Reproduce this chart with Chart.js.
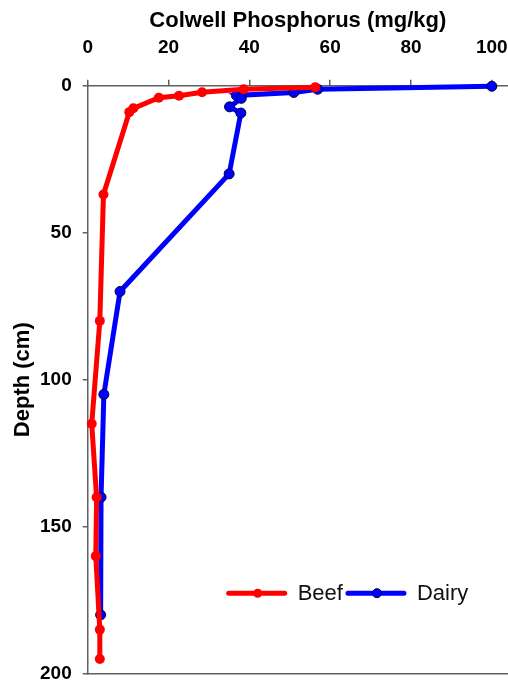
<!DOCTYPE html>
<html lang="en">
<head>
    <meta charset="UTF-8">
    <title>Colwell Phosphorus by Depth</title>
    <script src="https://cdn.jsdelivr.net/npm/chart.js"></script>
    <style>
        html, body { margin: 0; padding: 0; background: #fff; }
        .chart-container { width: 508px; height: 683px; position: relative; }
    </style>
</head>
<body>
    <div class="chart-container"><canvas id="depthChart"></canvas></div>

    <script>
        // data: depth (cm) vs Colwell P (mg/kg)
        const beefDepth = [0.5, 1.2, 2.2, 3.4, 4.1, 7.7, 9.0, 37, 80, 115, 140, 160, 185, 195];
        const beefP = [56.3, 38.6, 28.3, 22.6, 17.6, 11.3, 10.3, 3.9, 3.0, 1.0, 2.2, 2.0, 3.0, 3.0];
        const dairyDepth = [0.2, 1.2, 2.3, 3.3, 4.3, 7.2, 9.3, 30, 70, 105, 140, 180];
        const dairyP = [100, 56.9, 51.0, 36.8, 38.0, 35.1, 37.9, 35.0, 8.0, 4.0, 3.3, 3.2];
        const xTicks = [0, 20, 40, 60, 80, 100];
        const yTicks = [0, 50, 100, 150, 200];

        const FONT = "'Liberation Sans', Arial, sans-serif";
        const AXIS = '#5f5f5f';

        function toPoints(xs, ys) {
            return xs.map((x, i) => ({ x: x, y: ys[i] }));
        }

        // fixed box sizes, no extra label padding (plot runs off the right edge like the original)
        function fixBox(w, h) {
            return s => {
                if (w !== null) s.width = w;
                if (h !== null) s.height = h;
                s.paddingLeft = s.paddingRight = s.paddingTop = s.paddingBottom = 0;
            };
        }

        // line + dot legend like the original
        const lineLegend = {
            id: 'lineLegend',
            afterDatasetsDraw(chart) {
                const ctx = chart.ctx;
                const area = chart.chartArea;
                let x = area.left + 141;
                const y = area.top + 507.5;
                ctx.save();
                ctx.font = '22px ' + FONT;
                ctx.textBaseline = 'middle';
                chart.data.datasets.forEach(ds => {
                    ctx.strokeStyle = ds.borderColor;
                    ctx.lineWidth = 5;
                    ctx.lineCap = 'round';
                    ctx.beginPath();
                    ctx.moveTo(x, y);
                    ctx.lineTo(x + 56, y);
                    ctx.stroke();
                    ctx.beginPath();
                    ctx.arc(x + 29, y, 4.5, 0, Math.PI * 2);
                    ctx.fillStyle = ds.pointBackgroundColor;
                    ctx.fill();
                    if (ds.pointBorderWidth > 0) {
                        ctx.lineWidth = 1;
                        ctx.strokeStyle = ds.pointBorderColor;
                        ctx.stroke();
                    }
                    ctx.fillStyle = '#111';
                    ctx.fillText(ds.label, x + 69, y + 1);
                    x += 69 + ctx.measureText(ds.label).width + 5;
                });
                ctx.restore();
            }
        };

        new Chart(document.getElementById('depthChart'), {
            type: 'line',
            data: {
                datasets: [
                    {
                        label: 'Beef',
                        data: toPoints(beefP, beefDepth),
                        borderColor: '#ff0000',
                        borderWidth: 5,
                        pointBackgroundColor: '#ff0000',
                        pointBorderColor: '#ff0000',
                        pointBorderWidth: 0,
                        pointRadius: 5,
                        tension: 0,
                        clip: false
                    },
                    {
                        label: 'Dairy',
                        data: toPoints(dairyP, dairyDepth),
                        borderColor: '#0000ff',
                        borderWidth: 5,
                        pointBackgroundColor: '#0000ff',
                        pointBorderColor: '#000033',
                        pointBorderWidth: 1,
                        pointRadius: 5,
                        tension: 0,
                        clip: false
                    }
                ]
            },
            options: {
                responsive: true,
                maintainAspectRatio: false,
                animation: false,
                layout: { padding: 0, autoPadding: false },
                plugins: {
                    legend: { display: false },
                    tooltip: { enabled: false }
                },
                scales: {
                    x: {
                        type: 'linear',
                        position: 'top',
                        min: 0,
                        max: 104,
                        afterBuildTicks: s => { s.ticks = xTicks.map(v => ({ value: v })); },
                        afterFit: fixBox(null, 85.7),
                        ticks: { color: '#000', padding: 21, font: { family: FONT, size: 19, weight: 'bold' } },
                        grid: { drawOnChartArea: false, drawTicks: true, tickLength: 6, color: AXIS, lineWidth: 1.5 },
                        border: { display: true, color: AXIS, width: 1.5 },
                        title: {
                            display: true,
                            text: 'Colwell Phosphorus (mg/kg)',
                            color: '#000',
                            padding: { top: 8, bottom: 0 },
                            font: { family: FONT, size: 22, weight: 'bold' }
                        }
                    },
                    x2: {
                        type: 'linear',
                        position: 'bottom',
                        min: 0,
                        max: 104,
                        afterFit: fixBox(null, 9.3),
                        ticks: { display: false },
                        grid: { display: false },
                        border: { display: true, color: AXIS, width: 1.5 }
                    },
                    y: {
                        type: 'linear',
                        reverse: true,
                        min: 0,
                        max: 200,
                        afterBuildTicks: s => { s.ticks = yTicks.map(v => ({ value: v })); },
                        afterFit: fixBox(87.7, null),
                        ticks: { color: '#000', padding: 11, font: { family: FONT, size: 19, weight: 'bold' } },
                        grid: { drawOnChartArea: false, drawTicks: true, tickLength: 5, color: AXIS, lineWidth: 1.5 },
                        border: { display: true, color: AXIS, width: 1.5 },
                        title: {
                            display: true,
                            text: 'Depth (cm)',
                            color: '#000',
                            padding: { top: 10, bottom: 0 },
                            font: { family: FONT, size: 22, weight: 'bold' }
                        }
                    }
                }
            },
            plugins: [lineLegend]
        });
    </script>
</body>
</html>
